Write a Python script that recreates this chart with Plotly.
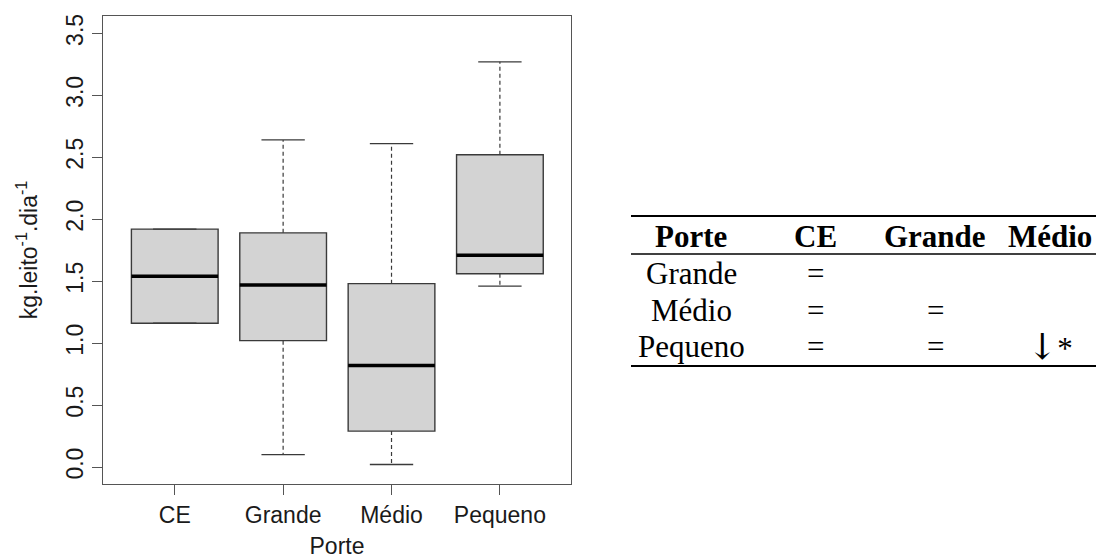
import plotly.graph_objects as go

# ---- data ----
categories = ["CE", "Grande", "Médio", "Pequeno"]
lower_whisker = [1.16, 0.10, 0.02, 1.46]
q1 = [1.16, 1.02, 0.29, 1.56]
median = [1.54, 1.47, 0.82, 1.71]
q3 = [1.92, 1.89, 1.48, 2.52]
upper_whisker = [1.92, 2.64, 2.61, 3.27]

y_ticks = [0.0, 0.5, 1.0, 1.5, 2.0, 2.5, 3.0, 3.5]

table_header = ["Porte", "CE", "Grande", "Médio"]
table_rows = ["Grande", "Médio", "Pequeno"]
table_cells = [["=", "", ""],
               ["=", "=", ""],
               ["=", "=", "↓*"]]

# ---- layout geometry (page coordinates; the page body has an 8px margin) ----
OFF = 8
W, H = 1104 - OFF, 559 - OFF
PLOT_L, PLOT_R, PLOT_T, PLOT_B = 103, 571, 16, 484   # page pixels
L = PLOT_L - OFF
T = PLOT_T - OFF
R = W - (PLOT_R - OFF)
B = H - (PLOT_B - OFF)
PW = W - L - R
PH = H - T - B


def px(x):  # page pixel -> paper fraction
    return (x - OFF - L) / PW


def py(y):
    return (H - B - (y - OFF)) / PH


pos = list(range(len(categories)))
fig = go.Figure()

# boxes
fig.add_trace(go.Box(
    x=pos, q1=q1, median=median, q3=q3,
    lowerfence=q1, upperfence=q3,
    width=0.8, fillcolor="#d3d3d3",
    line=dict(color="#3a3a3a", width=1.4),
    showlegend=False, hoverinfo="skip", boxpoints=False,
))

# whiskers (dashed)
wx, wy = [], []
for i in pos:
    wx += [i, i, None, i, i, None]
    wy += [q3[i], upper_whisker[i], None, q1[i], lower_whisker[i], None]
fig.add_trace(go.Scatter(x=wx, y=wy, mode="lines",
                         line=dict(color="#3a3a3a", width=1.2, dash="4px,3px"),
                         showlegend=False, hoverinfo="skip"))

# caps
cx, cy = [], []
for i in pos:
    cx += [i - 0.2, i + 0.2, None, i - 0.2, i + 0.2, None]
    cy += [upper_whisker[i], upper_whisker[i], None, lower_whisker[i], lower_whisker[i], None]
fig.add_trace(go.Scatter(x=cx, y=cy, mode="lines",
                         line=dict(color="#3a3a3a", width=1.4),
                         showlegend=False, hoverinfo="skip"))

# medians (thick)
mx, my = [], []
for i in pos:
    mx += [i - 0.4, i + 0.4, None]
    my += [median[i], median[i], None]
fig.add_trace(go.Scatter(x=mx, y=my, mode="lines",
                         line=dict(color="#000000", width=3.5),
                         showlegend=False, hoverinfo="skip"))

axis_font = dict(family="Liberation Sans, Arial", size=23, color="#1a1a1a")

fig.update_layout(
    width=W, height=H,
    margin=dict(l=L, r=R, t=T, b=B, autoexpand=False),
    paper_bgcolor="white", plot_bgcolor="white",
    font=axis_font,
    xaxis=dict(
        range=[-0.662, 3.656], tickmode="array", tickvals=pos, ticktext=categories,
        showline=True, linecolor="#555555", linewidth=1.4, mirror=True,
        ticks="outside", ticklen=10, tickcolor="#555555", tickwidth=1.4,
        showgrid=False, zeroline=False, tickfont=axis_font, automargin=False,
        title=dict(text="Porte", font=axis_font, standoff=16),
    ),
    yaxis=dict(
        range=[-0.137, 3.64], tickmode="array", tickvals=y_ticks,
        tickformat=".1f", tickangle=-90,
        showline=True, linecolor="#555555", linewidth=1.4, mirror=True,
        ticks="outside", ticklen=10, tickcolor="#555555", tickwidth=1.4,
        showgrid=False, zeroline=False, tickfont=axis_font, automargin=False,
        title=dict(text="kg.leito<sup>-1</sup>.dia<sup>-1</sup>", font=axis_font, standoff=17),
    ),
)

# ---- comparison table (right side) ----
serif = "Liberation Serif, Times New Roman, serif"
tsize = 31
col_x = [691, 815, 935, 1050]
header_y = 236
row_y = [273, 310, 347]


def cell_text(v):
    if "↓" in v:
        return v.replace("↓", "<span style='font-family:DejaVu Serif;font-size:36px'>↓</span>")
    return v


for j, h in enumerate(table_header):
    fig.add_annotation(xref="paper", yref="paper", x=px(col_x[j]), y=py(header_y),
                       text="<b>%s</b>" % h, showarrow=False, xanchor="center", yanchor="middle",
                       font=dict(family=serif, size=tsize, color="black"))
for r, lab in enumerate(table_rows):
    fig.add_annotation(xref="paper", yref="paper", x=px(col_x[0]), y=py(row_y[r]),
                       text=lab, showarrow=False, xanchor="center", yanchor="middle",
                       font=dict(family=serif, size=tsize, color="black"))
    for c, val in enumerate(table_cells[r]):
        if val:
            fig.add_annotation(xref="paper", yref="paper", x=px(col_x[c + 1]), y=py(row_y[r]),
                               text=cell_text(val), showarrow=False, xanchor="center", yanchor="middle",
                               font=dict(family=serif, size=tsize, color="black"))

for yline, wline in [(216, 2.0), (254, 1.6), (366, 2.0)]:
    fig.add_shape(type="line", xref="paper", yref="paper",
                  x0=px(631), x1=px(1104), y0=py(yline), y1=py(yline),
                  line=dict(color="black", width=wline))

fig.write_html("out.html")
